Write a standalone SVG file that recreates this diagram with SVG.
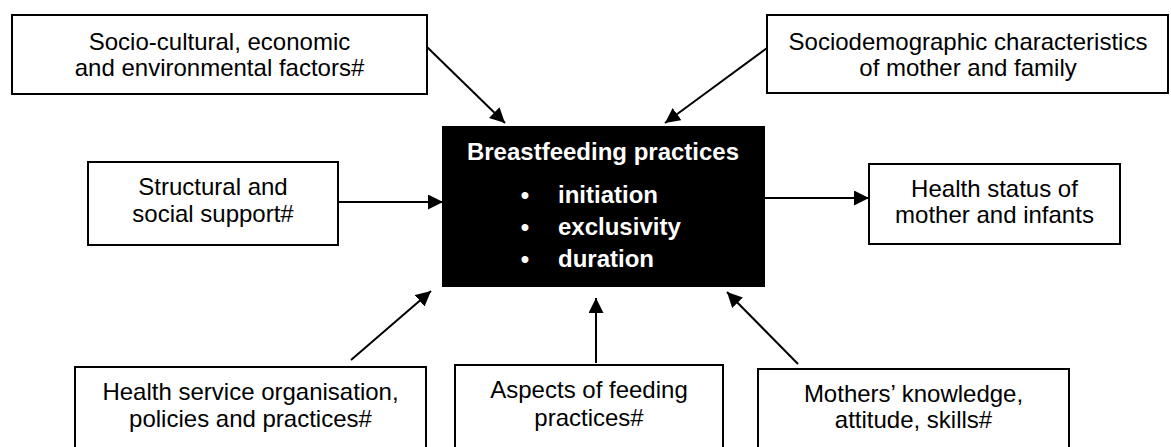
<svg xmlns="http://www.w3.org/2000/svg" width="1171" height="447" viewBox="0 0 1171 447">
<defs>
<marker id="arr" markerUnits="userSpaceOnUse" markerWidth="16" markerHeight="16" refX="15" refY="7.5" orient="auto">
<path d="M0,0 L15,7.5 L0,15 z" fill="#000"/>
</marker>
<style>
.box{fill:#fff;stroke:#000;stroke-width:2}
.t{font-family:"Liberation Sans",Arial,sans-serif;font-size:24px;fill:#000;text-anchor:middle}
.w{font-family:"Liberation Sans",Arial,sans-serif;font-size:24px;font-weight:bold;fill:#fff}
.c{stroke:#000;stroke-width:2;fill:none;marker-end:url(#arr)}
</style>
</defs>
<rect width="1171" height="447" fill="#fff"/>
<g id="connectors">
<line class="c" x1="427" y1="47" x2="505" y2="123"/>
<line class="c" x1="767" y1="48" x2="665" y2="123"/>
<line class="c" x1="338" y1="202" x2="443" y2="202"/>
<line class="c" x1="764" y1="198" x2="869" y2="198"/>
<line class="c" x1="351" y1="360" x2="431" y2="291"/>
<line class="c" x1="596" y1="363" x2="596" y2="298"/>
<line class="c" x1="798" y1="364" x2="727" y2="292"/>
</g>
<g id="socio">
<rect class="box" x="12" y="15" width="415" height="79"/>
<text class="t" x="219.5" y="50">Socio-cultural, economic</text>
<text class="t" x="219.5" y="76">and environmental factors#</text>
</g>
<g id="sociodemo">
<rect class="box" x="767" y="15" width="401" height="78"/>
<text class="t" x="968" y="50">Sociodemographic characteristics</text>
<text class="t" x="968" y="76">of mother and family</text>
</g>
<g id="structural">
<rect class="box" x="88" y="162" width="250" height="83"/>
<text class="t" x="213" y="195">Structural and</text>
<text class="t" x="213" y="222">social support#</text>
</g>
<g id="breastfeeding">
<rect x="443" y="127" width="321" height="159" fill="#000" stroke="#000" stroke-width="2"/>
<text class="w" x="603" y="160" text-anchor="middle">Breastfeeding practices</text>
<text class="w" x="525" y="203" text-anchor="middle">•</text>
<text class="w" x="558" y="203">initiation</text>
<text class="w" x="525" y="235" text-anchor="middle">•</text>
<text class="w" x="558" y="235">exclusivity</text>
<text class="w" x="525" y="267" text-anchor="middle">•</text>
<text class="w" x="558" y="267">duration</text>
</g>
<g id="healthstatus">
<rect class="box" x="869" y="164" width="251" height="80"/>
<text class="t" x="994.5" y="197">Health status of</text>
<text class="t" x="994.5" y="223">mother and infants</text>
</g>
<g id="healthservice">
<rect class="box" x="75" y="367" width="351" height="100"/>
<text class="t" x="250.5" y="400">Health service organisation,</text>
<text class="t" x="250.5" y="427">policies and practices#</text>
</g>
<g id="aspects">
<rect class="box" x="455" y="365" width="268" height="100"/>
<text class="t" x="589" y="398">Aspects of feeding</text>
<text class="t" x="589" y="426">practices#</text>
</g>
<g id="mothers">
<rect class="box" x="758" y="369" width="311" height="100"/>
<text class="t" x="913.5" y="402">Mothers’ knowledge,</text>
<text class="t" x="913.5" y="428">attitude, skills#</text>
</g>
</svg>
